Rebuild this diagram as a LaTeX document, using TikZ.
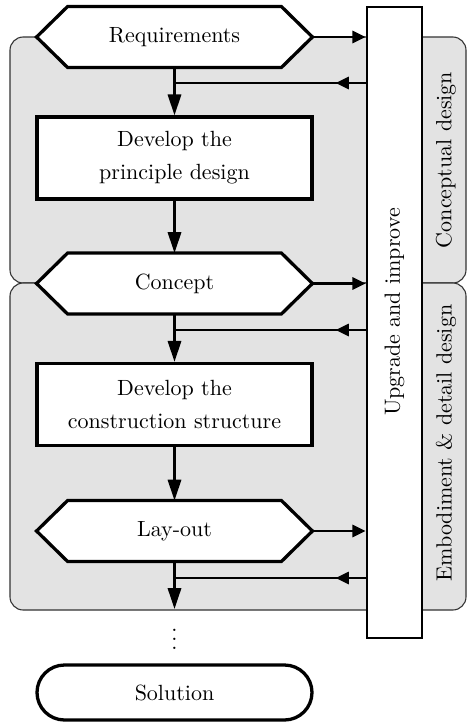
\documentclass[tikz,border=0pt]{standalone}
\usetikzlibrary{arrows.meta,shapes.misc,calc}
\begin{document}
\begin{tikzpicture}[x=0.4545pt,y=-0.4545pt,
  region/.style={draw=black!80,line width=0.5pt,fill=black!11,rounded corners=6pt},
  hexnode/.style={minimum width=275*0.4545pt,minimum height=60*0.4545pt,inner sep=0pt,font=\normalsize},
  hexline/.style={draw,line width=1.5pt,fill=white,line join=miter},
  stepbox/.style={draw,line width=1.5pt,fill=white,minimum width=275*0.4545pt,minimum height=82*0.4545pt,inner sep=0pt,align=center},
  endbox/.style={draw,line width=1.5pt,fill=white,rounded rectangle,minimum width=275*0.4545pt,minimum height=55*0.4545pt,inner sep=0pt},
  upbox/.style={draw,line width=1.2pt,fill=white,minimum width=55*0.4545pt,minimum height=631*0.4545pt,inner sep=0pt},
  downarrow/.style={line width=1.2pt,-{Triangle[length=9.5pt,width=6pt]}},
  sidearrow/.style={line width=1.2pt,-{Triangle[length=6pt,width=5.5pt]}},
  plainline/.style={line width=1.2pt},
  sidelabel/.style={rotate=90,inner sep=0pt}
]
\useasboundingbox (0,0) rectangle (467,724);
% regions
\node[region,minimum width=456*0.4545pt,minimum height=246*0.4545pt,inner sep=0pt] (reg1) at (238,160) {};
\node[region,minimum width=456*0.4545pt,minimum height=327*0.4545pt,inner sep=0pt] (reg2) at (238,446.5) {};
% upgrade box
\node[upbox] (up) at (394.5,322.5) {};
\node[sidelabel] (uptext) at (394.5,312) {Upgrade and improve};
\node[sidelabel] (cd) at (446,160) {Conceptual design};
\node[sidelabel] (ed) at (446,443) {Embodiment \& detail design};
% hexagons
\foreach \n/\y/\t in {req/37/Requirements,con/283.5/Concept,lay/531/Lay-out}{
  \node[hexnode] (\n) at (174.5,\y) {};
  \path[hexline] (\n.west) -- ($(\n.north west)+(31,0)$) -- ($(\n.north east)+(-31,0)$) -- (\n.east)
     -- ($(\n.south east)+(-31,0)$) -- ($(\n.south west)+(31,0)$) -- cycle;
  \node at (\n) {\t};
}
\node[stepbox] (dev1) at (174.5,158) {Develop the\\[3pt]principle design};
\node[stepbox] (dev2) at (174.5,404.5) {Develop the\\[3pt]construction structure};
\node[endbox] (sol) at (174.5,692.5) {Solution};
% coordinates
\coordinate (fb1) at (up.west|-0,83);
\coordinate (fb2) at (up.west|-0,330);
\coordinate (fb3) at (up.west|-0,578);
\coordinate (lend) at (174.5,609);
\node[inner sep=0pt] (dots) at (174.5,633) {$\vdots$};
% down arrows
\draw[downarrow] (req.south) -- (dev1.north);
\draw[downarrow] (dev1.south) -- (con.north);
\draw[downarrow] (con.south) -- (dev2.north);
\draw[downarrow] (dev2.south) -- (lay.north);
\draw[downarrow] (lay.south) -- (lend);
% right arrows
\draw[sidearrow] (req.east) -- (up.west|-req.east);
\draw[sidearrow] (con.east) -- (up.west|-con.east);
\draw[sidearrow] (lay.east) -- (up.west|-lay.east);
% feedback
\foreach \f in {fb1,fb2,fb3}{
  \draw[sidearrow] (\f) -- ($(\f)+(-30,0)$);
  \draw[plainline] ($(\f)+(-25,0)$) -- (\f-|req.south);
}
\end{tikzpicture}
\end{document}
